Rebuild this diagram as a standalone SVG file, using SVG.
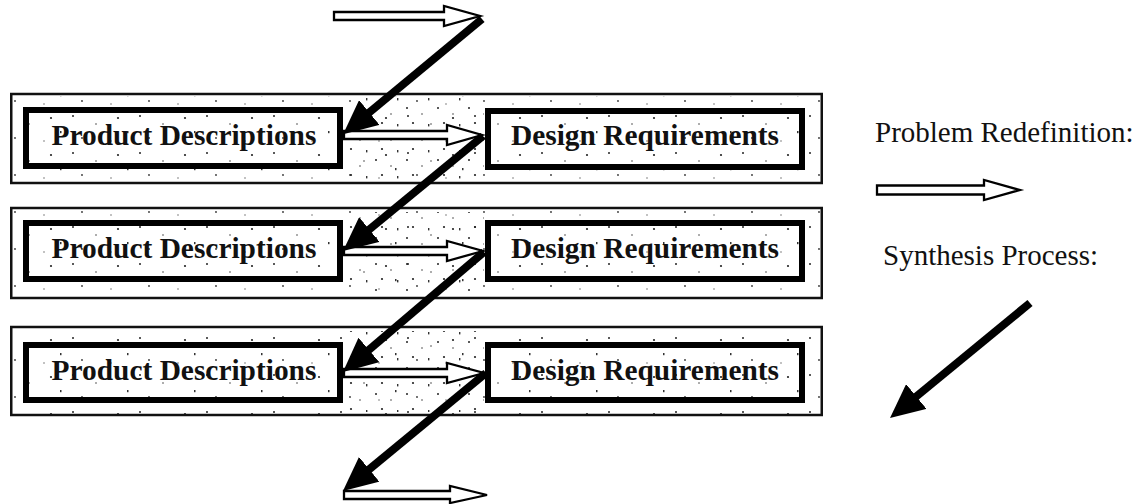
<svg xmlns="http://www.w3.org/2000/svg" width="1137" height="504" viewBox="0 0 1137 504">
  <defs>
    <style>
      .band { fill: #ffffff; stroke: #111; stroke-width: 2.5; }
      .band-tex { fill: url(#speck); stroke: none; }
      .gap-tex { fill: url(#speck2); stroke: none; }
      .box { fill: none; stroke: #000; stroke-width: 6; }
      .label { font-family: "Liberation Serif", "Times New Roman", serif; font-weight: bold; font-size: 29.4px; fill: #111; text-anchor: middle; }
      .legend { font-family: "Liberation Serif", "Times New Roman", serif; font-size: 29px; fill: #111; }
      .redef { fill: #fff; stroke: #000; stroke-width: 2.3; stroke-linejoin: miter; }
      .synth { fill: none; stroke: #000; stroke-width: 8; marker-end: url(#head); }
    </style>
    <!-- sparse speckle used as the band texture -->
    <pattern id="speck" width="67" height="37" patternUnits="userSpaceOnUse">
      <circle cx="6" cy="5" r="1" fill="#222"/>
      <circle cx="29" cy="13" r="0.8" fill="#444"/>
      <circle cx="51" cy="7" r="1.1" fill="#222"/>
      <circle cx="15" cy="27" r="0.9" fill="#333"/>
      <circle cx="44" cy="30" r="0.7" fill="#555"/>
      <rect x="60" y="20" width="1.5" height="2.2" fill="#333"/>
    </pattern>
    <!-- somewhat denser speckle between the two boxes of a band -->
    <pattern id="speck2" width="31" height="26" patternUnits="userSpaceOnUse">
      <circle cx="4" cy="4" r="1" fill="#222"/>
      <circle cx="19" cy="10" r="0.8" fill="#444"/>
      <circle cx="10" cy="19" r="1.1" fill="#222"/>
      <rect x="25" y="20" width="1.4" height="2.4" fill="#333"/>
    </pattern>
    <!-- solid head for the synthesis arrows -->
    <marker id="head" markerUnits="userSpaceOnUse" viewBox="0 0 34 32" markerWidth="34" markerHeight="32" refX="4" refY="16" orient="auto">
      <path d="M0,0 L34,16 L0,32 Z" fill="#000"/>
    </marker>
  </defs>

  <rect width="1137" height="504" fill="#fff"/>

  <!-- band 1 -->
  <g id="row1">
    <rect class="band" x="11.25" y="94" width="810.5" height="89"/>
    <rect class="band-tex" x="13" y="96" width="807" height="86"/>
    <rect class="gap-tex" x="346" y="98" width="138" height="82"/>
  </g>
  <g id="pd1">
    <rect class="box" x="26" y="110" width="314" height="56"/>
    <text class="label" x="184" y="145">Product Descriptions</text>
  </g>
  <g id="dr1">
    <rect class="box" x="488" y="111" width="314" height="56"/>
    <text class="label" x="645" y="145">Design Requirements</text>
  </g>

  <!-- band 2 -->
  <g id="row2">
    <rect class="band" x="11.25" y="208" width="810.5" height="90"/>
    <rect class="band-tex" x="13" y="210" width="807" height="87"/>
    <rect class="gap-tex" x="346" y="212" width="138" height="83"/>
  </g>
  <g id="pd2">
    <rect class="box" x="26" y="223" width="314" height="56"/>
    <text class="label" x="184" y="258">Product Descriptions</text>
  </g>
  <g id="dr2">
    <rect class="box" x="488" y="223" width="314" height="56"/>
    <text class="label" x="645" y="258">Design Requirements</text>
  </g>

  <!-- band 3 -->
  <g id="row3">
    <rect class="band" x="11.25" y="327" width="810.5" height="88"/>
    <rect class="band-tex" x="13" y="329" width="807" height="85"/>
    <rect class="gap-tex" x="346" y="331" width="138" height="81"/>
  </g>
  <g id="pd3">
    <rect class="box" x="26" y="345" width="314" height="55"/>
    <text class="label" x="184" y="380">Product Descriptions</text>
  </g>
  <g id="dr3">
    <rect class="box" x="488" y="345" width="314" height="55"/>
    <text class="label" x="645" y="380">Design Requirements</text>
  </g>

  <!-- key -->
  <g id="legend">
    <text class="legend" x="875" y="142">Problem Redefinition:</text>
    <path class="redef" d="M877,185.5 H984 V180 L1020,190 L984,200 V194.5 H877 Z"/>
    <text class="legend" x="883" y="265">Synthesis Process:</text>
    <line class="synth" x1="1030" y1="303" x2="913.2" y2="399"/>
  </g>

  <g id="connectors">
    <!-- problem redefinition (hollow) -->
    <path class="redef" d="M334,12 H444 V6 L480,16 L444,26 V20 H334 Z"/>
    <path class="redef" d="M344,131 H447 V125 L482,135 L447,145 V139 H344 Z"/>
    <path class="redef" d="M344,247 H447 V241 L483,251 L447,261 V255 H344 Z"/>
    <path class="redef" d="M344,369 H447 V363 L484,373 L447,383 V377 H344 Z"/>
    <path class="redef" d="M344,491 H450 V486 L487,495 L450,503 V499 H344 Z"/>
    <!-- synthesis (solid) -->
    <line class="synth" x1="482" y1="19" x2="366.2" y2="115"/>
    <line class="synth" x1="483" y1="136" x2="366.2" y2="232"/>
    <line class="synth" x1="484" y1="252" x2="365.8" y2="352.5"/>
    <line class="synth" x1="486" y1="373" x2="366.1" y2="471.8"/>
  </g>
</svg>
